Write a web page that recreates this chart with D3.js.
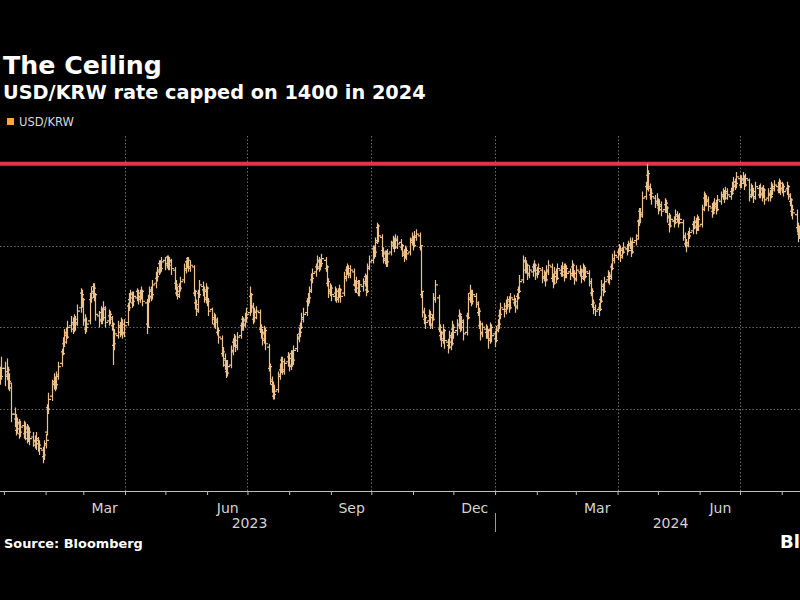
<!DOCTYPE html>
<html><head><meta charset="utf-8">
<script src="https://cdn.jsdelivr.net/npm/d3@7"></script>
<style>html,body{margin:0;padding:0;background:#000;overflow:hidden}</style>
</head><body><svg id="chart" width="800" height="600"></svg>
<script>
// ---- DATA (daily USD/KRW OHLC, trading days from 2022-12-28) ----
const opens = [
1269,1273,1269,
1275,1271,1273,1268,1263, 1247,1244,1237,1242,1235, 1240,1235,1239,1232,1237, 1233,1230,1228,1231,1229,
1225,1221,1229,1236,1251, 1258,1265,1267,1264,1271, 1278,1285,1290,1297,1295, 1301,1302,1299,1304,1303,
1312,1321,1316,1304,1299, 1304,1317,1321,1325,1319, 1307,1305,1309,1307,1311, 1304,1307,1305,1301,1289,
1295,1301,1297,1303,1296, 1303,1313,1317,1321,1315, 1318,1322,1317,1319,1321, 1315,1302,1317,1323,1319,
1327,1330,1335,1339,1335, 1341,1338,1343,1337,1341, 1335,1327,1321,1319,1325, 1329,1335,1340,1342,1336,
1337,1321,1315,1310,1321, 1325,1323,1317,1323,1315, 1311,1305,1302,1304,1297, 1293,1284,1281,1277,1273,
1277,1285,1291,1293,1288, 1295,1301,1305,1301,1305, 1309,1319,1313,1305,1310, 1309,1299,1297,1292,1297,
1288,1275,1267,1265,1258, 1262,1271,1274,1280,1273, 1279,1282,1276,1284,1279, 1287,1294,1296,1301,1305,
1309,1316,1317,1323,1329, 1334,1337,1340,1337,1340, 1341,1336,1327,1321,1323, 1319,1321,1317,1322,1322,
1321,1330,1335,1337,1332, 1334,1326,1323,1327,1321, 1325,1328,1331,1323,1337, 1341,1348,1345,1353,1361,
1355,1347,1341,1345,1339, 1346,1351,1352,1350,1353, 1352,1349,1345,1344,1346, 1346,1353,1354,1351,1355,
1356,1349,1320,1309,1305, 1304,1307,1301,1306,1317, 1318,1299,1295,1292,1297, 1291,1289,1295,1291,1299,
1298,1301,1307,1301,1303, 1297,1307,1317,1321,1317, 1319,1314,1309,1301,1297, 1299,1297,1297,1293,1299,
1296,1293,1299,1301,1307, 1311,1311,1313,1317,1313, 1317,1315,1313,1319,1323, 1329,1341,1335,1337,1333,
1334,1337,1337,1333,1335, 1335,1331,1331,1330,1334, 1337,1330,1328,1333,1331, 1335,1333,1336,1332,1335,
1334,1333,1337,1332,1330, 1334,1333,1331,1335,1332, 1333,1327,1321,1314,1311, 1311,1312,1317,1325,1323,
1329,1331,1331,1337,1341, 1343,1346,1347,1344,1347, 1348,1348,1351,1351,1347, 1353,1356,1365,1371,1369,
1380,1386,1393,1385,1381, 1379,1377,1377,1373,1374, 1372,1375,1372,1367,1363, 1365,1365,1368,1366,1365,
1364,1355,1351,1351,1357, 1359,1363,1364,1361,1365, 1363,1373,1379,1376,1377, 1373,1371,1373,1375,1373,
1377,1381,1381,1380,1382, 1380,1383,1385,1389,1387, 1391,1387,1391,1391,1388, 1390,1381,1384,1382,1380,
1385,1381,1384,1381,1383, 1379,1381,1381,1385,1385, 1386,1384,1387,1385,1385, 1384,1385,1380,1377,1371,
1369,1361,1357,1359,1363, 1367,1367,1369,1357,1351, 1343,1341,1337,1337,1344
];
const highs = [
1278,1276,1282,
1279,1281,1276,1272,1266, 1251,1247,1245,1244,1243, 1243,1242,1241,1240,1239, 1236,1234,1236,1233,1231,
1227,1231,1235,1253,1260, 1268,1272,1270,1273,1279, 1287,1294,1299,1300,1304, 1307,1306,1308,1307,1314,
1324,1323,1318,1308,1306, 1321,1325,1327,1327,1321, 1310,1313,1312,1316,1313, 1311,1310,1307,1303,1299,
1304,1303,1306,1305,1305, 1315,1321,1323,1322,1322, 1324,1323,1323,1325,1323, 1317,1320,1325,1325,1329,
1334,1337,1341,1341,1343, 1343,1344,1344,1343,1342, 1337,1329,1325,1327,1331, 1339,1341,1343,1343,1341,
1338,1323,1317,1323,1329, 1328,1325,1327,1325,1318, 1312,1309,1308,1306,1300, 1295,1288,1284,1280,1280,
1289,1293,1296,1295,1297, 1303,1307,1306,1309,1312, 1325,1321,1315,1312,1313, 1311,1302,1299,1301,1300,
1290,1278,1270,1267,1265, 1273,1278,1282,1282,1281, 1285,1284,1286,1286,1289, 1296,1300,1303,1309,1312,
1318,1321,1325,1333,1336, 1339,1344,1343,1342,1345, 1343,1338,1330,1327,1326, 1325,1324,1324,1326,1324,
1334,1337,1339,1338,1338, 1336,1329,1331,1329,1329, 1330,1333,1332,1339,1344, 1350,1350,1355,1364,1363,
1357,1349,1347,1347,1348, 1353,1356,1355,1357,1356, 1354,1351,1348,1350,1349, 1355,1358,1356,1359,1360,
1358,1350,1322,1312,1308, 1311,1310,1308,1321,1329, 1320,1302,1298,1302,1299, 1293,1298,1297,1304,1302,
1305,1311,1309,1307,1305, 1309,1321,1326,1323,1323, 1321,1316,1312,1304,1303, 1302,1301,1299,1303,1302,
1298,1301,1305,1311,1315, 1315,1317,1319,1319,1321, 1320,1318,1321,1325,1332, 1344,1343,1341,1339,1338,
1339,1341,1339,1337,1339, 1337,1335,1334,1338,1341, 1339,1333,1337,1336,1339, 1338,1340,1339,1339,1338,
1336,1341,1339,1335,1338, 1338,1336,1339,1338,1337, 1335,1330,1324,1317,1314, 1315,1319,1329,1327,1331,
1335,1334,1339,1345,1347, 1348,1351,1350,1349,1352, 1351,1353,1355,1353,1355, 1357,1366,1373,1373,1383,
1389,1400,1396,1388,1385, 1381,1382,1379,1378,1377, 1379,1378,1374,1370,1369, 1368,1372,1371,1369,1370,
1366,1358,1354,1359,1361, 1365,1368,1367,1369,1368, 1375,1383,1382,1381,1380, 1376,1377,1379,1378,1381,
1383,1385,1384,1386,1385, 1385,1389,1392,1391,1395, 1393,1393,1395,1393,1394, 1391,1388,1387,1385,1389,
1387,1388,1386,1387,1385, 1385,1384,1389,1388,1390, 1389,1391,1390,1389,1388, 1389,1387,1382,1379,1375,
1372,1364,1362,1367,1371, 1371,1373,1371,1360,1354, 1346,1343,1340,1348,1347
];
const lows = [
1266,1265,1268,
1264,1268,1262,1261,1242, 1239,1234,1235,1232,1233, 1232,1231,1229,1230,1228, 1227,1226,1225,1224,1222,
1217,1219,1226,1234,1247, 1255,1262,1261,1262,1268, 1276,1283,1288,1290,1293, 1297,1296,1297,1298,1301,
1309,1312,1301,1296,1297, 1302,1315,1318,1316,1304, 1300,1302,1302,1304,1300, 1301,1302,1298,1277,1286,
1293,1294,1295,1293,1294, 1301,1310,1315,1312,1313, 1316,1314,1315,1317,1313, 1296,1300,1315,1316,1317,
1324,1328,1332,1333,1334, 1335,1336,1335,1335,1332, 1323,1319,1317,1318,1322, 1327,1333,1336,1334,1334,
1319,1311,1307,1309,1318, 1319,1315,1315,1313,1307, 1302,1300,1299,1295,1290, 1282,1276,1274,1269,1270,
1275,1283,1288,1285,1286, 1293,1298,1298,1300,1303, 1307,1309,1302,1303,1305, 1297,1293,1289,1290,1286,
1273,1265,1260,1256,1256, 1260,1268,1272,1271,1271, 1276,1273,1274,1276,1277, 1285,1291,1294,1299,1303,
1307,1313,1315,1321,1327, 1331,1335,1334,1335,1337, 1334,1325,1318,1319,1316, 1316,1315,1315,1318,1315,
1319,1328,1332,1330,1330, 1325,1321,1321,1319,1319, 1322,1325,1319,1321,1335, 1339,1342,1343,1351,1352,
1343,1339,1339,1337,1337, 1344,1348,1346,1348,1348, 1347,1343,1340,1342,1341, 1344,1350,1347,1349,1353,
1347,1318,1306,1302,1299, 1301,1299,1299,1304,1315, 1297,1292,1288,1290,1287, 1284,1287,1286,1289,1293,
1295,1299,1297,1298,1292, 1295,1305,1315,1313,1314, 1312,1307,1299,1292,1294, 1293,1293,1287,1290,1291,
1288,1291,1297,1299,1305, 1306,1308,1311,1309,1311, 1313,1309,1311,1317,1321, 1327,1333,1333,1329,1330,
1331,1334,1329,1330,1332, 1327,1328,1325,1328,1332, 1328,1324,1326,1327,1329, 1331,1331,1328,1330,1330,
1329,1331,1330,1326,1328, 1331,1327,1329,1328,1330, 1325,1319,1312,1308,1307, 1307,1310,1315,1319,1321,
1327,1326,1329,1335,1339, 1341,1344,1340,1342,1345, 1344,1346,1348,1343,1345, 1350,1354,1362,1364,1367,
1378,1384,1383,1378,1375, 1373,1374,1369,1371,1368, 1370,1370,1364,1358,1361, 1361,1363,1364,1361,1363,
1353,1349,1346,1349,1354, 1357,1360,1357,1359,1359, 1361,1371,1374,1374,1371, 1367,1369,1371,1369,1371,
1375,1378,1376,1378,1378, 1378,1381,1383,1384,1385, 1385,1385,1388,1384,1386, 1377,1379,1380,1376,1378,
1379,1379,1377,1379,1375, 1377,1377,1379,1381,1383, 1382,1382,1381,1382,1380, 1381,1378,1374,1368,1366,
1358,1352,1354,1357,1361, 1362,1364,1355,1348,1338, 1336,1334,1332,1335,1337
];
const closes = [
1272,1270,1275,
1270,1274,1267,1266,1247, 1243,1238,1241,1236,1239, 1236,1238,1233,1236,1232, 1231,1229,1232,1228,1226,
1222,1228,1231,1250,1256, 1266,1268,1265,1270,1276, 1284,1291,1296,1294,1300, 1303,1300,1305,1302,1310,
1320,1317,1305,1300,1302, 1318,1322,1324,1320,1308, 1304,1310,1306,1312,1303, 1308,1306,1302,1290,1296,
1300,1298,1302,1297,1301, 1312,1318,1320,1316,1319, 1321,1318,1320,1322,1316, 1300,1318,1322,1320,1326,
1331,1334,1338,1336,1340, 1339,1342,1338,1340,1336, 1326,1322,1320,1324,1328, 1336,1339,1341,1337,1338,
1322,1314,1311,1320,1326, 1322,1318,1324,1316,1310, 1306,1303,1305,1298,1294, 1285,1280,1278,1272,1276,
1286,1290,1292,1289,1294, 1300,1304,1302,1306,1308, 1320,1312,1306,1309,1310, 1300,1296,1293,1298,1290,
1276,1268,1264,1259,1261, 1270,1275,1279,1274,1278, 1281,1277,1283,1280,1286, 1293,1297,1300,1306,1308,
1315,1318,1322,1330,1333, 1336,1341,1338,1339,1342, 1337,1328,1322,1324,1320, 1322,1318,1321,1323,1319,
1331,1334,1336,1333,1335, 1327,1324,1328,1322,1326, 1327,1330,1322,1336,1340, 1347,1346,1352,1362,1356,
1346,1342,1344,1340,1345, 1350,1353,1349,1354,1351, 1350,1346,1343,1347,1345, 1352,1355,1350,1356,1357,
1350,1322,1310,1306,1303, 1308,1302,1305,1318,1326, 1300,1296,1293,1298,1292, 1288,1294,1290,1300,1297,
1302,1308,1300,1304,1296, 1306,1318,1322,1316,1320, 1315,1310,1302,1296,1300, 1296,1298,1292,1300,1295,
1292,1298,1302,1308,1312, 1310,1314,1316,1312,1318, 1316,1312,1318,1322,1328, 1340,1336,1338,1332,1335,
1336,1338,1332,1334,1336, 1330,1332,1329,1335,1338, 1331,1327,1334,1330,1336, 1334,1337,1331,1336,1333,
1332,1338,1333,1329,1335, 1334,1330,1336,1331,1334, 1328,1322,1315,1312,1310, 1311,1316,1326,1322,1328,
1332,1330,1336,1342,1344, 1345,1348,1343,1346,1349, 1347,1350,1352,1346,1352, 1354,1364,1370,1368,1379,
1385,1394,1386,1382,1380, 1376,1378,1372,1375,1371, 1376,1373,1368,1362,1366, 1364,1369,1367,1364,1366,
1356,1352,1350,1356,1358, 1362,1365,1360,1366,1362, 1372,1380,1377,1378,1374, 1370,1374,1376,1372,1378,
1380,1382,1379,1383,1381, 1382,1386,1389,1388,1392, 1388,1390,1392,1387,1391, 1380,1385,1383,1379,1386,
1382,1385,1380,1384,1378, 1382,1380,1386,1384,1387, 1385,1388,1384,1386,1383, 1386,1381,1378,1372,1370,
1362,1356,1358,1364,1368, 1366,1370,1358,1352,1342, 1340,1338,1336,1345,1340
];
const firstTradingDay = "2022-12-28";
const ceilingLevel = 1400;
const gridLevels = [1250, 1300, 1350, 1400];
const monthLabelMonths = ["2023-03", "2023-06", "2023-09", "2023-12", "2024-03", "2024-06"];
const yearLabels = ["2023", "2024"];
const titleText = "The Ceiling";
const subtitleText = "USD/KRW rate capped on 1400 in 2024";
const seriesName = "USD/KRW";
const sourceText = "Source: Bloomberg";

// ---- BUILD ----
const parse = d3.timeParse("%Y-%m-%d");
const dates = [];
for (let d = parse(firstTradingDay); dates.length < closes.length; d = d3.timeDay.offset(d, 1)) {
  const w = d.getDay();
  if (w !== 0 && w !== 6) dates.push(d);
}
const bars = closes.map((c, i) => ({date: dates[i], o: opens[i], h: highs[i], l: lows[i], c}));

const svg = d3.select("#chart");
svg.append("rect").attr("width", 800).attr("height", 600).attr("fill", "#000");

const plotTop = 136, plotBottom = 491, plotRight = 846;
const x = d3.scaleTime()
  .domain([new Date(2023, 3, 1), new Date(2024, 6, 1)])
  .range([125, 740]);
const y = d3.scaleLinear().domain([1200, 1417]).range([plotBottom, plotTop]);

const font = "'DejaVu Sans', sans-serif";

// horizontal gridlines
svg.append("g").selectAll("line").data(gridLevels).join("line")
  .attr("x1", 0).attr("x2", plotRight)
  .attr("y1", d => Math.round(y(d)) + 0.5).attr("y2", d => Math.round(y(d)) + 0.5)
  .attr("stroke", "#6b6b6b").attr("stroke-width", 1).attr("stroke-dasharray", "1.5,2");

// vertical gridlines at quarter starts
const quarterStarts = d3.timeMonth.every(3).range(new Date(2023, 0, 2), new Date(2024, 8, 30));
svg.append("g").selectAll("line").data(quarterStarts).join("line")
  .attr("x1", d => Math.round(x(d)) + 0.5).attr("x2", d => Math.round(x(d)) + 0.5)
  .attr("y1", plotTop).attr("y2", plotBottom)
  .attr("stroke", "#6b6b6b").attr("stroke-width", 1).attr("stroke-dasharray", "1.5,2");

// ceiling line
svg.append("line")
  .attr("x1", 0).attr("x2", plotRight)
  .attr("y1", y(ceilingLevel)).attr("y2", y(ceilingLevel))
  .attr("stroke", "#e8324a").attr("stroke-width", 4);

// OHLC bars
const barColor = "#ecc08c";
svg.append("g").selectAll("path").data(bars).join("path")
  .attr("d", d => {
    const cx = Math.round(x(d.date)) + 0.5;
    return `M${cx},${y(d.h)}V${y(d.l)}M${cx - 2.5},${y(d.o)}H${cx}M${cx},${y(d.c)}H${cx + 2.5}`;
  })
  .attr("fill", "none").attr("stroke", barColor).attr("stroke-width", 1.2);

// x axis: monthly ticks + baseline
const monthTicks = d3.timeMonth.range(new Date(2023, 0, 1), new Date(2024, 8, 2));
const axisG = svg.append("g").attr("transform", `translate(0,${plotBottom})`)
  .call(d3.axisBottom(x).tickValues(monthTicks).tickSize(4).tickFormat("").tickSizeOuter(0));
axisG.select(".domain").attr("stroke", "#bdbdbd").attr("d", `M0,0.5H${plotRight}`);
axisG.selectAll(".tick line").attr("stroke", "#bdbdbd");

// month labels centered in their month
const monthMid = monthLabelMonths.map(m => {
  const s = d3.timeParse("%Y-%m")(m);
  return new Date((s.getTime() + d3.timeMonth.offset(s, 1).getTime()) / 2);
});
const labelAxis = svg.append("g").attr("transform", `translate(0,${plotBottom})`)
  .call(d3.axisBottom(x).tickValues(monthMid).tickSize(0).tickPadding(12).tickFormat(d3.timeFormat("%b")));
labelAxis.select(".domain").remove();
labelAxis.selectAll("text").attr("fill", "#d4d4d4").attr("font-family", font).attr("font-size", 14);

// year labels + separator
const yearStart = yearLabels.map(yy => new Date(+yy, 0, 1));
const yearSpan = yearLabels.map((yy, i) => {
  const a = Math.max(0, x(yearStart[i]));
  const b = i < yearLabels.length - 1 ? x(yearStart[i + 1]) : plotRight;
  return (a + b) / 2;
});
svg.append("g").selectAll("text").data(yearLabels).join("text")
  .attr("x", (d, i) => yearSpan[i]).attr("y", 528)
  .attr("text-anchor", "middle").attr("fill", "#d4d4d4")
  .attr("font-family", font).attr("font-size", 14).text(d => d);
svg.append("g").selectAll("line").data(yearStart.slice(1)).join("line")
  .attr("x1", d => Math.round(x(d)) + 0.5).attr("x2", d => Math.round(x(d)) + 0.5)
  .attr("y1", 513).attr("y2", 532).attr("stroke", "#9a9a9a");

// titles
function fitText(sel, width) {
  const w = sel.node().getComputedTextLength();
  const fs = parseFloat(sel.attr("font-size"));
  sel.attr("font-size", fs * width / w);
}
const t1 = svg.append("text").attr("x", 3).attr("y", 74).attr("fill", "#fff")
  .attr("font-family", font).attr("font-weight", "bold").attr("font-size", 25).text(titleText);
fitText(t1, 159);
const t2 = svg.append("text").attr("x", 3).attr("y", 99).attr("fill", "#fff")
  .attr("font-family", font).attr("font-weight", "bold").attr("font-size", 19).text(subtitleText);
fitText(t2, 423);

// legend
svg.append("rect").attr("x", 7).attr("y", 118).attr("width", 7).attr("height", 7).attr("fill", "#f6a83a");
svg.append("text").attr("x", 19).attr("y", 126).attr("fill", "#d9d9d9")
  .attr("font-family", font).attr("font-size", 11.5).text(seriesName);

// source + logo (logo is cut by the right edge, as in the reference)
const src = svg.append("text").attr("x", 4).attr("y", 548).attr("fill", "#fff")
  .attr("font-family", font).attr("font-weight", "bold").attr("font-size", 13).text(sourceText);
fitText(src, 139);
svg.append("text").attr("x", 780).attr("y", 548).attr("fill", "#fff")
  .attr("font-family", font).attr("font-weight", "bold").attr("font-size", 18).text("Bloomberg");
</script>
</body></html>
